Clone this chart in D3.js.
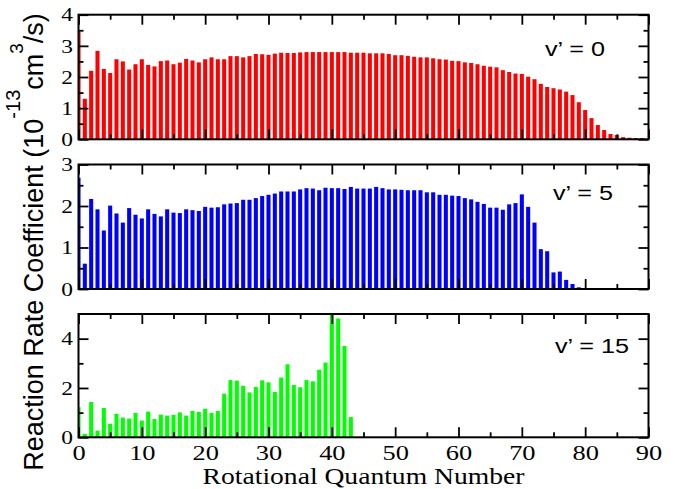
<!DOCTYPE html>
<html>
<head>
<meta charset="utf-8">
<script src="https://cdn.jsdelivr.net/npm/d3@7"></script>
<style>
  body { margin: 0; background: #fff; }
</style>
</head>
<body>
<div id="chart"></div>
<script>
// Reaction rate coefficients (units of 1e-13 cm^3/s) per rotational level j = 0, 1, 2, ...
// one array per vibrational level v'
const rateV0 = [
  3.45, 1.30, 2.20, 2.84, 2.26, 2.13, 2.57, 2.50, 2.24, 2.41,
  2.57, 2.39, 2.34, 2.51, 2.53, 2.41, 2.46, 2.58, 2.53, 2.47,
  2.57, 2.63, 2.57, 2.57, 2.67, 2.67, 2.63, 2.67, 2.74, 2.73,
  2.71, 2.75, 2.78, 2.77, 2.77, 2.79, 2.80, 2.80, 2.80, 2.80,
  2.80, 2.80, 2.80, 2.78, 2.78, 2.78, 2.76, 2.76, 2.76, 2.74,
  2.70, 2.70, 2.68, 2.65, 2.63, 2.63, 2.60, 2.57, 2.56, 2.52,
  2.51, 2.47, 2.45, 2.41, 2.36, 2.33, 2.31, 2.22, 2.16, 2.11,
  2.10, 2.01, 1.93, 1.78, 1.68, 1.64, 1.60, 1.53, 1.42, 1.19,
  0.94, 0.68, 0.46, 0.30, 0.17, 0.14, 0.07, 0.05, 0.04, 0.04
];
const rateV5 = [
  2.68, 0.61, 2.17, 1.92, 1.41, 2.01, 1.82, 1.60, 1.95, 1.79,
  1.70, 1.92, 1.81, 1.75, 1.92, 1.84, 1.83, 1.92, 1.90, 1.88,
  1.98, 1.96, 1.97, 2.04, 2.06, 2.07, 2.15, 2.15, 2.19, 2.24,
  2.27, 2.30, 2.35, 2.35, 2.35, 2.40, 2.43, 2.42, 2.38, 2.44,
  2.43, 2.43, 2.41, 2.46, 2.42, 2.42, 2.42, 2.46, 2.43, 2.40,
  2.40, 2.39, 2.38, 2.38, 2.38, 2.33, 2.33, 2.27, 2.27, 2.25,
  2.24, 2.19, 2.16, 2.10, 2.05, 1.96, 1.96, 1.91, 2.04, 2.07,
  2.28, 1.98, 1.60, 0.96, 0.91, 0.40, 0.42, 0.22, 0.12, 0.04
];
const rateV15 = [
  1.22, 0.14, 1.43, 0.27, 1.19, 0.55, 0.95, 0.80, 0.76, 0.99,
  0.68, 1.04, 0.74, 0.92, 0.88, 0.91, 1.01, 0.88, 1.07, 1.03,
  1.16, 0.99, 1.07, 1.77, 2.32, 2.30, 2.09, 1.82, 2.04, 2.31,
  2.23, 1.84, 2.42, 2.96, 2.12, 2.03, 2.32, 2.27, 2.74, 3.03,
  4.96, 4.82, 3.70, 0.82
];

// tick labels
const xTickLabels = [0, 10, 20, 30, 40, 50, 60, 70, 80, 90];
const yTicksV0 = [0, 1, 2, 3, 4];
const yTicksV5 = [0, 1, 2, 3];
const yTicksV15 = [0, 2, 4];

const width = 675, height = 489;
const plotLeft = 78.5, plotRight = 648.5;
const serif = "'Liberation Serif', 'Times New Roman', serif";
const sans = "'Liberation Sans', Arial, Helvetica, sans-serif";
const stretch = "scale(1.2,1)";   // the original figure is a bit wider than tall

// panel layout
const panels = [
  { label: "v\u2019 = 0", data: rateV0, color: "#ff0000", yTicks: yTicksV0, yMinorStep: 0.5,
    top: 14.7, bottom: 139.3, labelX: 545, labelY: 56 },
  { label: "v\u2019 = 5", data: rateV5, color: "#0000ff", yTicks: yTicksV5, yMinorStep: 0.5,
    top: 164.5, bottom: 289, labelX: 553, labelY: 200 },
  { label: "v\u2019 = 15", data: rateV15, color: "#00ff00", yTicks: yTicksV15, yMinorStep: 1,
    top: 314, bottom: 437.3, labelX: 555, labelY: 353 }
];

const svg = d3.select("#chart").append("svg")
  .attr("width", width)
  .attr("height", height)
  .style("display", "block");

const x = d3.scaleLinear()
  .domain([xTickLabels[0], xTickLabels[xTickLabels.length - 1]])
  .range([plotLeft, plotRight]);

const xMinor = d3.range(5, 90, 10);
const barHalf = 0.32;

panels.forEach((p, i) => {
  const isLast = i === panels.length - 1;
  const yMax = p.yTicks[p.yTicks.length - 1] + (p.yMinorStep === 1 ? 1 : 0);
  const y = d3.scaleLinear().domain([0, yMax]).range([p.bottom, p.top]);
  const yMinor = d3.range(p.yMinorStep, yMax, p.yMinorStep).filter(v => !p.yTicks.includes(v));

  const g = svg.append("g");

  // clip bars to the frame (the j = 0 bar sits half under the left axis)
  const clipId = "clip" + i;
  g.append("clipPath").attr("id", clipId)
    .append("rect")
    .attr("x", plotLeft).attr("y", p.top)
    .attr("width", plotRight - plotLeft).attr("height", p.bottom - p.top);

  g.append("g")
    .attr("clip-path", `url(#${clipId})`)
    .selectAll("rect")
    .data(p.data)
    .join("rect")
    .attr("x", (d, j) => x(j - barHalf))
    .attr("width", x(barHalf) - x(-barHalf))
    .attr("y", d => y(d))
    .attr("height", d => y(0) - y(d))
    .attr("fill", p.color);

  // inward ticks on all four sides
  const noDomain = sel => sel.select(".domain").remove();

  const bottomMajor = g.append("g")
    .attr("transform", `translate(0,${p.bottom})`)
    .call(d3.axisBottom(x).tickValues(xTickLabels).tickSizeInner(-10).tickSizeOuter(0)
      .tickPadding(7).tickFormat(isLast ? d3.format("d") : () => ""))
    .call(noDomain);
  g.append("g")
    .attr("transform", `translate(0,${p.bottom})`)
    .call(d3.axisBottom(x).tickValues(xMinor).tickSizeInner(-5).tickSizeOuter(0).tickFormat(() => ""))
    .call(noDomain);
  g.append("g")
    .attr("transform", `translate(0,${p.top})`)
    .call(d3.axisTop(x).tickValues(xTickLabels).tickSizeInner(-10).tickSizeOuter(0).tickFormat(() => ""))
    .call(noDomain);
  g.append("g")
    .attr("transform", `translate(0,${p.top})`)
    .call(d3.axisTop(x).tickValues(xMinor).tickSizeInner(-5).tickSizeOuter(0).tickFormat(() => ""))
    .call(noDomain);

  const leftMajor = g.append("g")
    .attr("transform", `translate(${plotLeft},0)`)
    .call(d3.axisLeft(y).tickValues(p.yTicks).tickSizeInner(-10).tickSizeOuter(0)
      .tickPadding(4.6).tickFormat(d3.format("d")))
    .call(noDomain);
  g.append("g")
    .attr("transform", `translate(${plotLeft},0)`)
    .call(d3.axisLeft(y).tickValues(yMinor).tickSizeInner(-5).tickSizeOuter(0).tickFormat(() => ""))
    .call(noDomain);
  g.append("g")
    .attr("transform", `translate(${plotRight},0)`)
    .call(d3.axisRight(y).tickValues(p.yTicks).tickSizeInner(-10).tickSizeOuter(0).tickFormat(() => ""))
    .call(noDomain);
  g.append("g")
    .attr("transform", `translate(${plotRight},0)`)
    .call(d3.axisRight(y).tickValues(yMinor).tickSizeInner(-5).tickSizeOuter(0).tickFormat(() => ""))
    .call(noDomain);

  g.selectAll(".tick line").attr("stroke", "#000").attr("stroke-width", 1.8);

  bottomMajor.selectAll("text")
    .attr("transform", stretch)
    .style("font-family", serif)
    .style("font-size", "22px")
    .style("fill", "#000");
  leftMajor.selectAll("text")
    .attr("transform", stretch)
    .style("font-family", serif)
    .style("font-size", "19.5px")
    .style("fill", "#000");

  // frame
  g.append("rect")
    .attr("x", plotLeft).attr("y", p.top)
    .attr("width", plotRight - plotLeft).attr("height", p.bottom - p.top)
    .attr("fill", "none")
    .attr("stroke", "#000")
    .attr("stroke-width", 2);

  // panel label
  g.append("text")
    .attr("transform", `translate(${p.labelX},${p.labelY}) ${stretch}`)
    .style("font-family", sans)
    .style("font-size", "21px")
    .style("fill", "#000")
    .text(p.label);
});

// axis titles
svg.append("text")
  .attr("transform", `translate(${(plotLeft + plotRight) / 2},484) ${stretch}`)
  .attr("text-anchor", "middle")
  .style("font-family", serif)
  .style("font-size", "23px")
  .text("Rotational Quantum Number");

const yTitle = svg.append("text")
  .attr("transform", "translate(43,242) rotate(-90)")
  .attr("text-anchor", "middle")
  .style("font-family", sans)
  .style("font-size", "27px");
yTitle.append("tspan").text("Reaction Rate Coefficient (10");
yTitle.append("tspan").attr("baseline-shift", "23px").style("font-size", "20px").text("-13");
yTitle.append("tspan").text("cm");
yTitle.append("tspan").attr("baseline-shift", "20px").style("font-size", "19px").text("3");
yTitle.append("tspan").text("/s)");
</script>
</body>
</html>
